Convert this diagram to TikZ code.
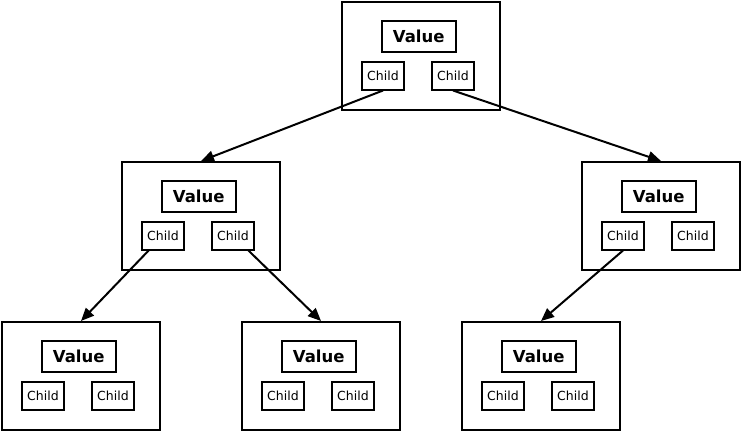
\documentclass[tikz,border=0pt]{standalone}
\usepackage{fontspec}
\setmainfont{DejaVu Sans}
\usetikzlibrary{arrows.meta,positioning}

\begin{document}
\begin{tikzpicture}[x=1pt, y=-1pt, line width=2pt, line join=miter,
		>={Triangle[length=13pt,width=11pt]},
		item/.style={draw, minimum width=158pt, minimum height=108pt, inner sep=0pt},
		val/.style={draw, fill=white, minimum width=74pt, minimum height=31pt, inner sep=0pt,
			font=\fontsize{16.5}{19}\selectfont\bfseries},
		kid/.style={draw, fill=white, minimum width=42.5pt, minimum height=28pt, inner sep=0pt,
			font=\fontsize{12.5}{15}\selectfont}]
		
		\useasboundingbox (0,0) rectangle (741,432);
		
		% root
		\node[item] (r) at (421,56) {};
		\node[val, above=3pt of r.center, xshift=-2.3pt] (rv) {Value};
		\node[kid, below=4.5pt of r.center, xshift=-38pt] (rl) {Child};
		\node[kid, below=4.5pt of r.center, xshift=32pt] (rr) {Child};
		
		% second row
		\node[item] (a) at (201,216) {};
		\node[val, above=3pt of a.center, xshift=-2.3pt] (av) {Value};
		\node[kid, below=4.5pt of a.center, xshift=-38pt] (al) {Child};
		\node[kid, below=4.5pt of a.center, xshift=32pt] (ar) {Child};
		
		\node[item] (b) at (661,216) {};
		\node[val, above=3pt of b.center, xshift=-2.3pt] (bv) {Value};
		\node[kid, below=4.5pt of b.center, xshift=-38pt] (bl) {Child};
		\node[kid, below=4.5pt of b.center, xshift=32pt] (br) {Child};
		
		% leaves
		\node[item] (aa) at (81,376) {};
		\node[val, above=3pt of aa.center, xshift=-2.3pt] (aav) {Value};
		\node[kid, below=4.5pt of aa.center, xshift=-38pt] (aal) {Child};
		\node[kid, below=4.5pt of aa.center, xshift=32pt] (aar) {Child};
		
		\node[item] (ab) at (321,376) {};
		\node[val, above=3pt of ab.center, xshift=-2.3pt] (abv) {Value};
		\node[kid, below=4.5pt of ab.center, xshift=-38pt] (abl) {Child};
		\node[kid, below=4.5pt of ab.center, xshift=32pt] (abr) {Child};
		
		\node[item] (ba) at (541,376) {};
		\node[val, above=3pt of ba.center, xshift=-2.3pt] (bav) {Value};
		\node[kid, below=4.5pt of ba.center, xshift=-38pt] (bal) {Child};
		\node[kid, below=4.5pt of ba.center, xshift=32pt] (bar) {Child};
		
		% links
		\draw[->] (rl.south) -- (a.north);
		\draw[->] (rr.south) -- (b.north);
		\draw[->] (al) -- (aa.north);
		\draw[->] (ar) -- (ab.north);
		\draw[->] (bl.south) -- (ba.north);
		
	\end{tikzpicture}
\end{document}
